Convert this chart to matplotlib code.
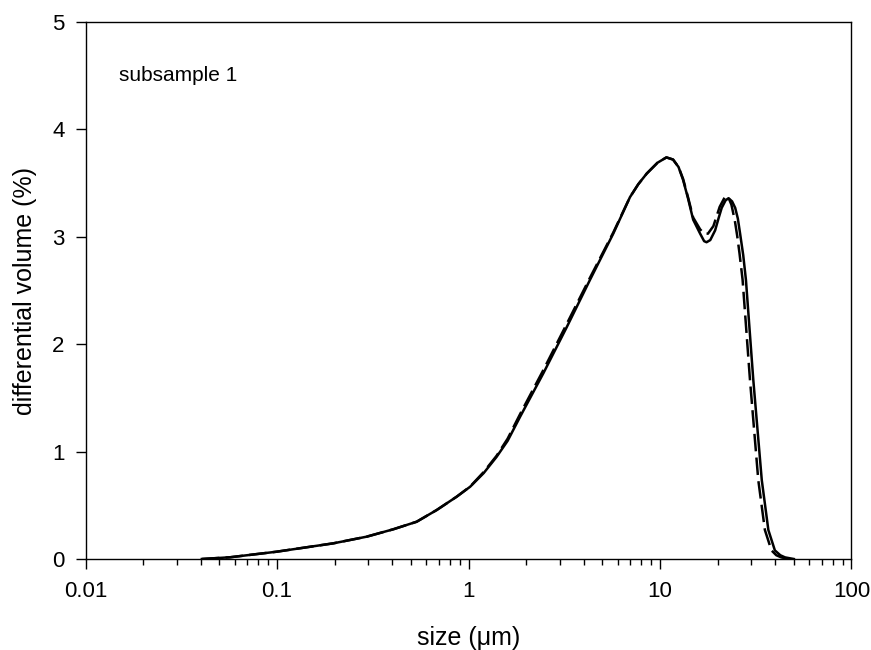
import matplotlib
matplotlib.use("Agg")
import matplotlib.pyplot as plt
from matplotlib.ticker import LogLocator, FixedLocator, FixedFormatter, NullFormatter

plt.rcParams['font.family'] = ['Liberation Sans', 'DejaVu Sans']

# solid curve (run 1)
size_a = [0.0405, 0.0568, 0.0996, 0.197, 0.294, 0.405, 0.536, 0.682, 0.867, 1.02,
          1.2, 1.4, 1.6, 1.86, 2.46, 3.26, 4.31, 5.70, 6.97, 7.7, 8.53, 9.7, 10.8,
          11.7, 12.5, 13.2, 14.0, 14.9, 16.2, 17.0, 17.5, 18.3, 19.4, 20.2, 21.0,
          22.0, 22.8, 23.8, 24.7, 25.5, 26.2, 27.2, 28.1, 30.7, 34.0, 36.8, 39.8,
          42.5, 45.0, 50.0]
vol_a = [0.0, 0.016, 0.068, 0.146, 0.208, 0.277, 0.347, 0.456, 0.58, 0.673,
         0.80, 0.95, 1.10, 1.325, 1.73, 2.16, 2.60, 3.03, 3.37, 3.49, 3.59, 3.69,
         3.74, 3.72, 3.65, 3.53, 3.36, 3.16, 3.03, 2.96, 2.95, 2.97, 3.06, 3.17,
         3.27, 3.34, 3.36, 3.33, 3.27, 3.17, 3.03, 2.83, 2.60, 1.67, 0.735, 0.27,
         0.08, 0.035, 0.015, 0.0]

# dashed curve (run 2)
size_b = [0.0405, 0.0568, 0.0996, 0.197, 0.294, 0.405, 0.536, 0.682, 0.867, 1.02,
          1.2, 1.4, 1.6, 1.86, 2.46, 3.26, 4.31, 5.70, 6.97, 7.7, 8.53, 9.7, 10.8,
          11.7, 12.5, 13.2, 14.0, 14.9, 16.2, 17.0, 17.8, 19.0, 20.5, 21.8, 22.6,
          23.6, 24.6, 25.3, 26.0, 27.0, 29.5, 32.6, 35.3, 38.2, 40.5, 43.0, 47.0]
vol_b = [0.0, 0.016, 0.068, 0.146, 0.208, 0.277, 0.347, 0.456, 0.58, 0.675,
         0.81, 0.96, 1.12, 1.35, 1.76, 2.19, 2.62, 3.04, 3.37, 3.49, 3.59, 3.69,
         3.74, 3.72, 3.65, 3.54, 3.37, 3.18, 3.07, 3.03, 3.03, 3.10, 3.28, 3.37,
         3.38, 3.30, 3.15, 3.01, 2.85, 2.60, 1.67, 0.735, 0.27, 0.08, 0.035,
         0.015, 0.0]

fig = plt.figure(figsize=(8.71, 6.5), dpi=100)
ax = fig.add_axes([0.0982, 0.14, 0.8794, 0.826])

ax.plot(size_b, vol_b, color='black', lw=1.8, dashes=(7, 2.5))
ax.plot(size_a, vol_a, color='black', lw=1.8)

ax.set_xscale('log')
ax.set_xlim(0.01, 100)
ax.set_ylim(0, 5)

ax.xaxis.set_major_locator(FixedLocator([0.01, 0.1, 1, 10, 100]))
ax.xaxis.set_major_formatter(FixedFormatter(['0.01', '0.1', '1', '10', '100']))
ax.xaxis.set_minor_locator(LogLocator(base=10, subs=range(2, 10)))
ax.xaxis.set_minor_formatter(NullFormatter())
ax.set_yticks([0, 1, 2, 3, 4, 5])

ax.tick_params(axis='both', which='major', direction='out', length=7, width=1,
               labelsize=16, top=False, right=False)
ax.tick_params(axis='x', which='minor', direction='out', length=4, width=1, top=False)
ax.tick_params(axis='x', which='major', pad=9)
ax.tick_params(axis='y', which='major', pad=8)

for s in ax.spines.values():
    s.set_linewidth(1)

ax.set_xlabel('size (\u03bcm)', fontsize=18, labelpad=17)
ax.set_ylabel('differential volume (%)', fontsize=18, labelpad=11)

ax.text(0.015, 4.5, 'subsample 1', fontsize=15, va='center', ha='left')

fig.savefig('out.png', dpi=100)
